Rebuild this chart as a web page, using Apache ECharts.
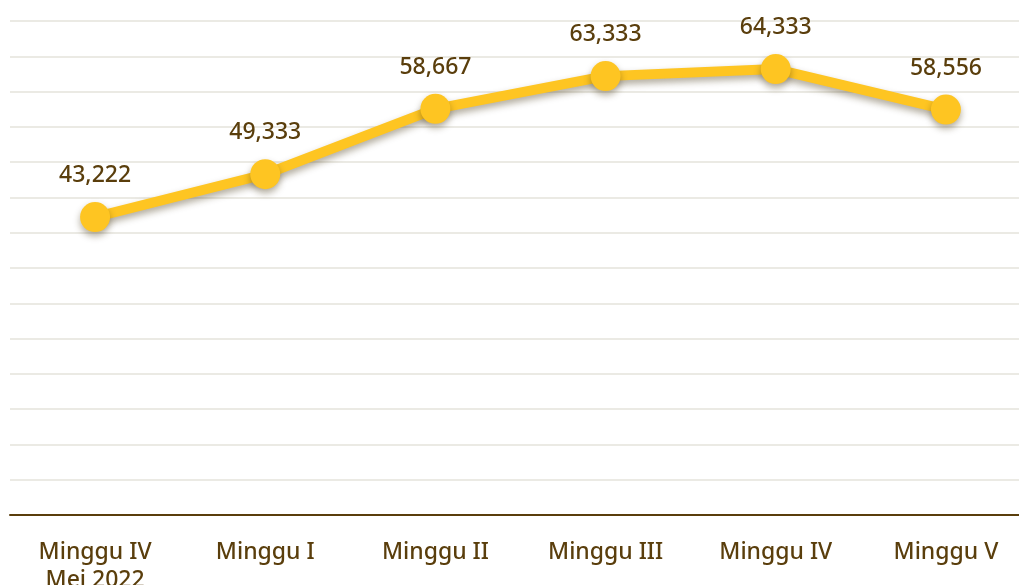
<!DOCTYPE html>
<html>
<head>
    <meta charset="utf-8">
    <title>Minggu</title>
    <style>
        html, body {margin: 0; padding: 0; background: #fff;}
        #chart {width: 1019px; height: 585px;}
    </style>
</head>
<body>
<div id="chart"></div>
<script src="https://cdn.jsdelivr.net/npm/echarts@6/dist/echarts.min.js"></script>
<script>
    // data
    var weeks = ['Minggu IV\nMei 2022', 'Minggu I', 'Minggu II', 'Minggu III', 'Minggu IV', 'Minggu V'];
    var values = [43.222, 49.333, 58.667, 63.333, 64.333, 58.556];

    var brown = '#5a3e0c';
    var chart = echarts.init(document.getElementById('chart'));

    chart.setOption({
        animation: false,
        grid: {
            left: 10, width: 1021, top: 21, bottom: 70,
            containLabel: false,
            outerBoundsMode: 'none'
        },
        xAxis: {
            type: 'category',
            data: weeks,
            boundaryGap: true,
            axisLine: {onZero: false, lineStyle: {color: brown, width: 2}},
            axisTick: {show: false},
            axisLabel: {
                color: brown,
                fontFamily: 'Noto Sans',
                fontSize: 23,
                fontWeight: 500,
                lineHeight: 28,
                margin: 23,
                interval: 0
            }
        },
        yAxis: [{
            // gridlines only
            type: 'value',
            min: 0,
            max: 70,
            interval: 5,
            axisLabel: {show: false},
            axisLine: {show: false},
            axisTick: {show: false},
            splitLine: {lineStyle: {color: '#ebeae4', width: 2}}
        }, {
            // value scale of the line, hidden
            type: 'value',
            show: false,
            min: 0.7,
            max: 71.2,
            splitLine: {show: false}
        }],
        series: [{
            type: 'line',
            yAxisIndex: 1,
            data: values,
            symbol: 'circle',
            symbolSize: 30,
            lineStyle: {
                color: '#fec522',
                width: 10,
                shadowColor: 'rgba(60,45,10,0.4)',
                shadowBlur: 7,
                shadowOffsetY: 4
            },
            itemStyle: {
                color: '#fec522',
                shadowColor: 'rgba(60,45,10,0.4)',
                shadowBlur: 7,
                shadowOffsetY: 4
            },
            label: {
                show: true,
                position: 'top',
                distance: 15,
                color: brown,
                fontFamily: 'Noto Sans',
                fontSize: 23,
                fontWeight: 500,
                formatter: function (p) {
                    return p.value.toFixed(3).replace('.', ',');
                }
            }
        }]
    });
</script>
</body>
</html>
